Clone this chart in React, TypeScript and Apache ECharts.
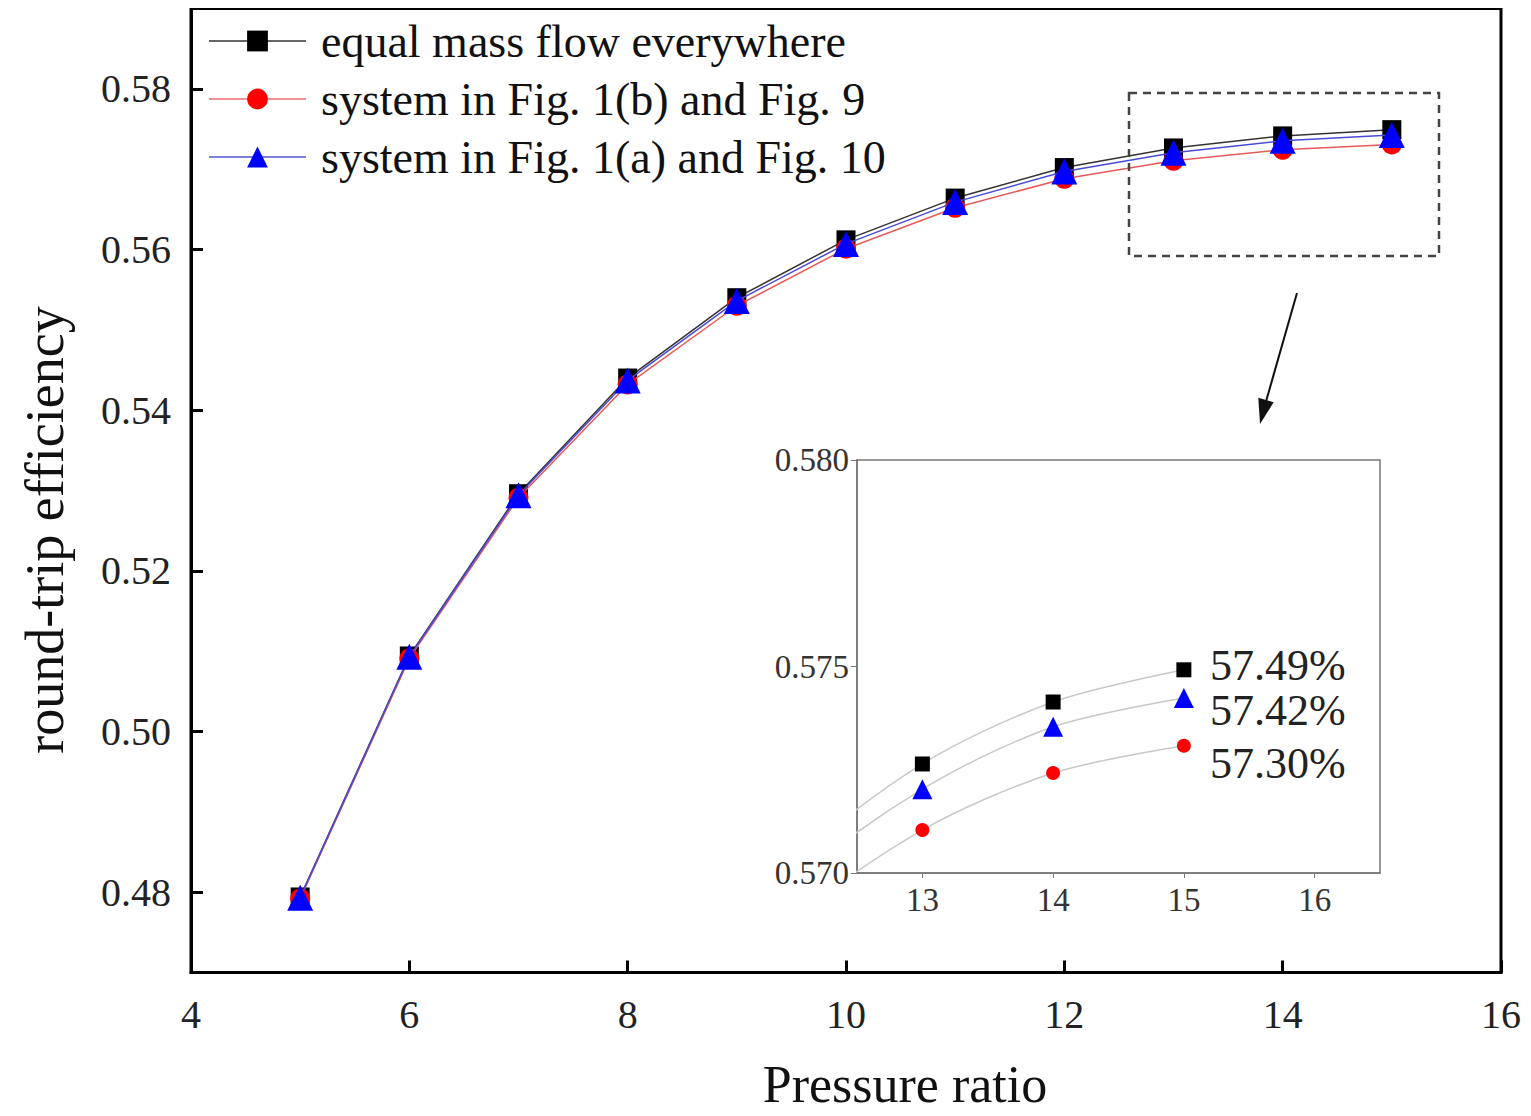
import React, { useEffect, useRef } from "react";
import * as echarts from "echarts";

const xValues = [5, 6, 7, 8, 9, 10, 11, 12, 13, 14, 15];
const equalMassFlow = [0.4794, 0.5094, 0.5296, 0.544, 0.554, 0.5612, 0.5664, 0.5702, 0.57264, 0.57414, 0.57492];
const systemFig1b = [0.4792, 0.5091, 0.5291, 0.5432, 0.553, 0.5601, 0.5652, 0.5688, 0.57104, 0.57242, 0.57308];
const systemFig1a = [0.4793, 0.5093, 0.5294, 0.5437, 0.5536, 0.5607, 0.5659, 0.5697, 0.57203, 0.57354, 0.57424];

const seriesNames = [
  "equal mass flow everywhere",
  "system in Fig. 1(b) and Fig. 9",
  "system in Fig. 1(a) and Fig. 10",
];
const mainYTicks = [0.48, 0.5, 0.52, 0.54, 0.56, 0.58];
const insetXTicks = [13, 14, 15, 16];
const insetYTicks = [0.57, 0.575, 0.58];
const insetNotes = ["57.49%", "57.42%", "57.30%"];

const FONT = "Liberation Serif";

function pairs(ys: number[]) {
  return xValues.map((x, i) => [x, ys[i]]);
}

export default function App() {
  const ref = useRef<HTMLDivElement>(null);
  useEffect(() => {
    if (!ref.current) return;
    const chart = echarts.init(ref.current, undefined, { renderer: "svg" });
    const sets = [equalMassFlow, systemFig1b, systemFig1a];
    const symbols = ["rect", "circle", "triangle"];
    const mainSizes = [19, 20, 26];
    const insetSizes = [15, 14, 20];
    const markerColors = ["#000000", "#ff0000", "#0000ff"];
    const lineColors = ["#333333", "#e85a5a", "#4a4ad8"];
    const legendLineColors = ["#666666", "#f09090", "#8080e0"];

    const mainSeries = sets.map((ys, i) => ({
      name: seriesNames[i],
      type: "line",
      xAxisIndex: 0,
      yAxisIndex: 0,
      data: pairs(ys),
      symbol: symbols[i],
      symbolSize: mainSizes[i],
      itemStyle: { color: markerColors[i] },
      lineStyle: { color: lineColors[i], width: 1.5 },
      z: 3 + i,
    }));
    const insetSeries = sets.map((ys, i) => ({
      name: "inset-" + i,
      type: "line",
      xAxisIndex: 1,
      yAxisIndex: 1,
      data: pairs(ys),
      symbol: symbols[i],
      symbolSize: insetSizes[i],
      smooth: 0.3,
      clip: true,
      itemStyle: { color: markerColors[i] },
      lineStyle: { color: "#c8c8c8", width: 1.5 },
      z: 10 + i,
    }));

    const tickText = { fontFamily: FONT, color: "#222", fontSize: 40 };
    const insetText = { fontFamily: FONT, color: "#333", fontSize: 33 };

    chart.setOption({
      animation: false,
      backgroundColor: "#ffffff",
      legend: {
        data: seriesNames.map((n, i) => ({
          name: n,
          lineStyle: { color: legendLineColors[i], width: 2 },
        })),
        orient: "vertical",
        left: 203,
        top: 13,
        itemWidth: 97,
        itemHeight: 26,
        itemGap: 12,
        textStyle: { fontFamily: FONT, fontSize: 46, color: "#111", lineHeight: 46, padding: [0, 0, 0, 10] },
      },
      grid: [
        { left: 191, top: 8.5, width: 1310, height: 964, show: true, borderColor: "#000", borderWidth: 3, backgroundColor: "transparent", containLabel: false },
        { left: 857, top: 460, width: 523, height: 413, show: true, borderColor: "#777", borderWidth: 1.5, backgroundColor: "#ffffff", containLabel: false, z: 5 },
      ],
      xAxis: [
        {
          type: "value", gridIndex: 0, min: 4, max: 16, interval: 2,
          axisLine: { onZero: false, lineStyle: { color: "#000", width: 3 } },
          axisTick: { inside: true, length: 12, lineStyle: { color: "#000", width: 3 } },
          axisLabel: { ...tickText, margin: 22 },
          splitLine: { show: false },
        },
        {
          type: "value", gridIndex: 1, min: 12.5, max: 16.5,
          axisLine: { onZero: false, lineStyle: { color: "#777", width: 1.5 } },
          axisTick: { customValues: insetXTicks, length: 5, lineStyle: { color: "#777" } },
          axisLabel: { ...insetText, customValues: insetXTicks, margin: 10 },
          splitLine: { show: false },
          z: 6,
        },
      ],
      yAxis: [
        {
          type: "value", gridIndex: 0, min: 0.47, max: 0.59,
          axisLine: { onZero: false, lineStyle: { color: "#000", width: 3 } },
          axisTick: { customValues: mainYTicks, inside: true, length: 12, lineStyle: { color: "#000", width: 3 } },
          axisLabel: { ...tickText, customValues: mainYTicks, margin: 20, formatter: (v: number) => v.toFixed(2) },
          splitLine: { show: false },
        },
        {
          type: "value", gridIndex: 1, min: 0.57, max: 0.58,
          axisLine: { onZero: false, lineStyle: { color: "#777", width: 1.5 } },
          axisTick: { customValues: insetYTicks, length: 6, lineStyle: { color: "#777" } },
          axisLabel: { ...insetText, customValues: insetYTicks, margin: 8, formatter: (v: number) => v.toFixed(3) },
          splitLine: { show: false },
          z: 6,
        },
      ],
      series: [...mainSeries, ...insetSeries],
      graphic: [
        {
          type: "rect",
          shape: { x: 1129, y: 93, width: 310, height: 163 },
          style: { fill: "none", stroke: "#444", lineWidth: 2.5, lineDash: [8, 6] },
          z: 20,
        },
        {
          type: "line",
          shape: { x1: 1297, y1: 293, x2: 1265, y2: 405 },
          style: { stroke: "#111", lineWidth: 2 },
          z: 20,
        },
        {
          type: "polygon",
          shape: { points: [[1260, 424], [1273.7, 402.2], [1258.3, 397.8]] },
          style: { fill: "#111" },
          z: 20,
        },
        {
          type: "text",
          x: 45, y: 530, rotation: Math.PI / 2,
          style: { text: "round-trip efficiency", fontFamily: FONT, fontSize: 54, fill: "#111", textAlign: "center", textVerticalAlign: "middle" },
          z: 20,
        },
        {
          type: "text",
          x: 905, y: 1084,
          style: { text: "Pressure ratio", fontFamily: FONT, fontSize: 52, fill: "#111", textAlign: "center", textVerticalAlign: "middle" },
          z: 20,
        },
        ...insetNotes.map((t, i) => ({
          type: "text",
          x: 1210,
          y: [665, 710, 763][i],
          style: { text: t, fontFamily: FONT, fontSize: 44, fill: "#222", textAlign: "left", textVerticalAlign: "middle" },
          z: 20,
        })),
      ],
    });
    return () => chart.dispose();
  }, []);
  return <div ref={ref} style={{ width: 1531, height: 1116, margin: -8 }} />;
}
